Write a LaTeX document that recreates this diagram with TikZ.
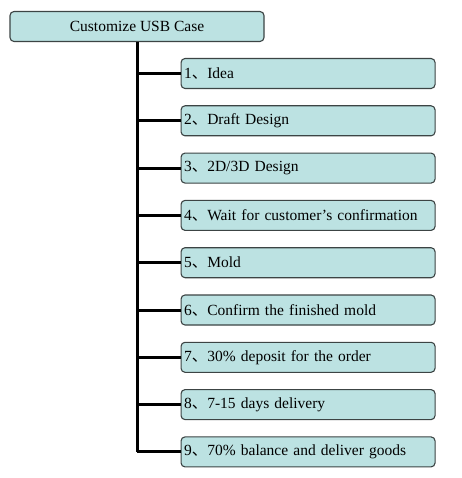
\documentclass[tikz,border=0pt]{standalone}
\usepackage{fontspec}
\setmainfont{Liberation Serif}
\newfontfamily\cjk{Noto Sans CJK SC}
\usetikzlibrary{positioning}

\definecolor{boxfill}{HTML}{BCE2E2}
\definecolor{boxline}{HTML}{3C4444}

\newcommand{\dun}{{\cjk 、}}

\tikzset{
  casebox/.style={draw=boxline,fill=boxfill,line width=1.1pt,rounded corners=4pt,
    minimum width=254pt,minimum height=30pt,inner sep=0pt,
    font=\fontsize{15.5pt}{18pt}\selectfont},
  stepbox/.style={casebox,text width=248pt,align=left,inner xsep=3pt},
  trunk/.style={line width=3pt,black}
}

\begin{document}
\begin{tikzpicture}[x=1pt,y=-1pt,node distance=16.2pt]
    \useasboundingbox[fill=white] (0,0) rectangle (461,478);

    \node[casebox]                   (top) at (137,26.5) {Customize USB Case};
    \node[stepbox,anchor=west]       (s1) at (180.5,73.5)  {1\dun Idea};
    \node[stepbox]                   (s2) [below=of s1] {2\dun Draft Design};
    \node[stepbox]                   (s3) [below=of s2] {3\dun 2D/3D Design};
    \node[stepbox]                   (s4) [below=of s3] {4\dun Wait for customer's confirmation};
    \node[stepbox]                   (s5) [below=of s4] {5\dun Mold};
    \node[stepbox]                   (s6) [below=of s5] {6\dun Confirm the finished mold};
    \node[stepbox]                   (s7) [below=of s6] {7\dun 30\% deposit for the order};
    \node[stepbox]                   (s8) [below=of s7] {8\dun 7-15 days delivery};
    \node[stepbox]                   (s9) [below=of s8] {9\dun 70\% balance and deliver goods};

    % trunk and branches
    \draw[trunk] (top) -- (top |- s9.west);
    \draw[trunk] (top |- s1.west) -- (s1);
    \draw[trunk] (top |- s2.west) -- (s2);
    \draw[trunk] (top |- s3.west) -- (s3);
    \draw[trunk] (top |- s4.west) -- (s4);
    \draw[trunk] (top |- s5.west) -- (s5);
    \draw[trunk] (top |- s6.west) -- (s6);
    \draw[trunk] (top |- s7.west) -- (s7);
    \draw[trunk] (top |- s8.west) -- (s8);
    \draw[trunk] (top |- s9.west) -- (s9);

  \end{tikzpicture}
\end{document}
